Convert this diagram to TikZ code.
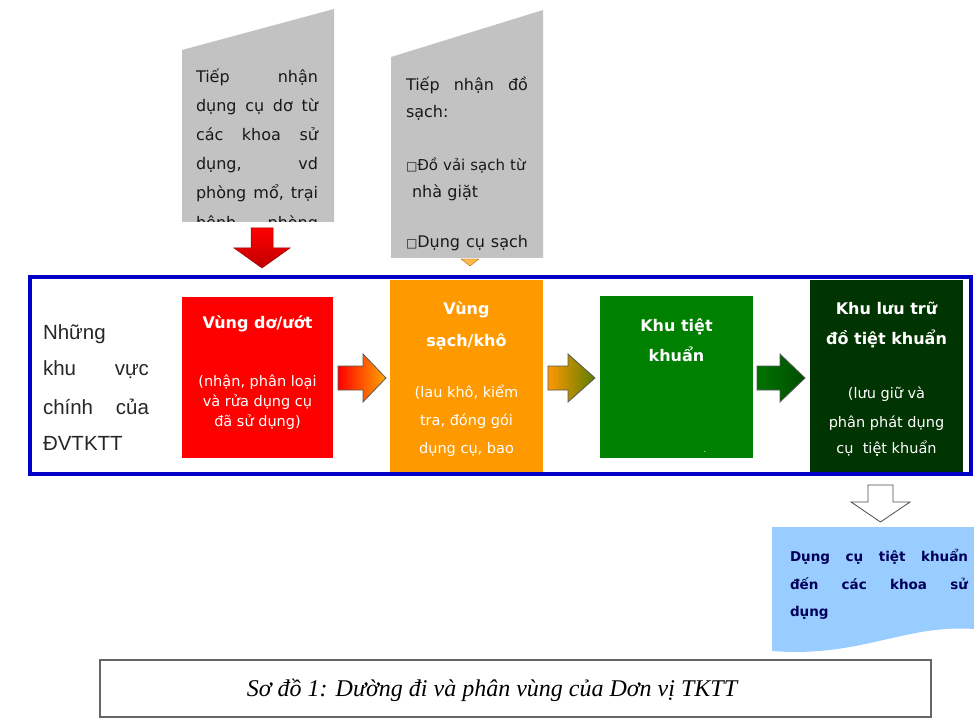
\documentclass[tikz,border=0pt]{standalone}
\usepackage{fontspec}
\setmainfont{Liberation Serif}
\newfontfamily\arialf{Liberation Sans}
\newfontfamily\dvs{DejaVu Sans}
\definecolor{frameblue}{RGB}{0,0,200}
\definecolor{boxgray}{RGB}{194,194,194}
\definecolor{zred}{RGB}{255,0,0}
\definecolor{zorange}{RGB}{255,153,0}
\definecolor{zgreen}{RGB}{0,128,0}
\definecolor{zdark}{RGB}{0,52,0}
\definecolor{zolive}{RGB}{90,125,0}
\definecolor{docblue}{RGB}{153,204,255}
\definecolor{docnavy}{RGB}{0,0,90}
\newcommand\smbox{{\fontsize{12}{12}\selectfont □}}
\begin{document}
\begin{tikzpicture}[x=1pt,y=-1pt,
  every node/.style={inner sep=0pt,outer sep=0pt},
  gtxt/.style={font=\dvs\fontsize{16}{19}\selectfont, text=black!90, text width=#1, align=left, anchor=base west},
  gtxt/.default=122pt,
  lefttxt/.style={font=\arialf\fontsize{20.5}{25}\selectfont, text=black!85, text width=106pt, align=left, anchor=base west},
  ttl/.style={font=\dvs\bfseries\fontsize{16}{19}\selectfont, text=white, anchor=base},
  sub/.style={font=\dvs\fontsize{14.5}{17}\selectfont, text=white, anchor=base},
  doctxt/.style={font=\dvs\bfseries\fontsize{13.5}{16}\selectfont, text=docnavy, text width=178pt, align=left, anchor=base west},
  arrowline/.style={draw=black!65, line width=0.8pt}
]
\useasboundingbox (0,0) rectangle (974,727);

% ---- gray input box 1
\fill[boxgray] (182,50) -- (334,9) -- (334,222) -- (182,222) -- cycle;
\begin{scope}
\clip (182,50) -- (334,9) -- (334,222) -- (182,222) -- cycle;
\node[gtxt] (g1a) at (196,83) {Tiếp\hfill nhận};
\node[gtxt] (g1b) at (196,112) {dụng\hfill cụ\hfill dơ\hfill từ};
\node[gtxt] (g1c) at (196,141) {các\hfill khoa\hfill sử};
\node[gtxt] (g1d) at (196,170) {dụng,\hfill vd};
\node[gtxt] (g1e) at (196,199) {phòng\hfill mổ,\hfill trại};
\node[gtxt] (g1f) at (196,229) {bệnh\hfill phòng};
\end{scope}

% ---- gray input box 2
\fill[boxgray] (391,57) -- (543,10) -- (543,258) -- (391,258) -- cycle;
\node[gtxt] (g2a) at (406,91) {Tiếp\hfill nhận\hfill đồ};
\node[gtxt] (g2b) at (406,118) {sạch:};
\node[gtxt=134pt, font=\dvs\fontsize{15}{18}\selectfont] (g2c) at (406,171) {\smbox Đồ vải sạch từ};
\node[gtxt] (g2d) at (412,198) {nhà giặt};
\node[gtxt] (g2e) at (406,248) {\smbox Dụng\hfill cụ\hfill sạch};

% ---- down arrows from input boxes
\shadedraw[top color=zred, bottom color=zred!75!black, draw=zred!60!black, line width=0.5pt]
  (251,228) -- (273,228) -- (273,248) -- (290,248) -- (262,268) -- (234,248) -- (251,248) -- cycle;
\fill[zorange!70!white, draw=zorange!60!black, line width=0.3pt] (461,259) -- (479,259) -- (470,266) -- cycle;

% ---- zone boxes
\fill[zred] (182,297) rectangle (333,458);
\fill[zorange] (390,280) rectangle (543,472);
\fill[zgreen] (600,296) rectangle (753,458);
\fill[zdark] (810,280) rectangle (963,472);

% ---- main frame
\draw[frameblue, line width=4pt] (30,277) rectangle (971,474);

% ---- left label
\node[lefttxt] (la) at (43,339) {Những};
\node[lefttxt] (lb) at (43,375) {khu\hfill vực};
\node[lefttxt] (lc) at (43,414) {chính\hfill của};
\node[lefttxt] (ld) at (43,450) {ĐVTKTT};

% ---- red box text
\node[ttl] (r1) at (257.5,328) {Vùng dơ/ướt};
\node[sub] (r2) at (257.5,386) {(nhận, phân loại};
\node[sub] (r3) at (257.5,406) {và rửa dụng cụ};
\node[sub] (r4) at (257.5,426) {đã sử dụng)};

% ---- orange box text
\node[ttl] (o1) at (466.5,314) {Vùng};
\node[ttl] (o2) at (466.5,346) {sạch/khô};
\node[sub] (o3) at (466.5,397) {(lau khô, kiểm};
\node[sub] (o4) at (466.5,425) {tra, đóng gói};
\node[sub] (o5) at (466.5,453) {dụng cụ, bao};

% ---- green box text
\node[ttl] (gr1) at (676.5,331) {Khu tiệt};
\node[ttl] (gr2) at (676.5,361) {khuẩn};
\node[sub, font=\dvs\fontsize{8}{9}\selectfont] (gr3) at (705,452) {.};

% ---- dark green box text
\node[ttl] (d1) at (886.5,314) {Khu lưu trữ};
\node[ttl] (d2) at (886.5,344) {đồ tiệt khuẩn};
\node[sub] (d3) at (886.5,398) {(lưu giữ và};
\node[sub] (d4) at (886.5,427) {phân phát dụng};
\node[sub] (d5) at (886.5,453) {cụ\ \ tiệt khuẩn};

% ---- horizontal block arrows
\shadedraw[left color=zred, right color=zorange!85!yellow, arrowline]
  (338,366) -- (363,366) -- (363,354) -- (386,378) -- (363,402) -- (363,390) -- (338,390) -- cycle;
\shadedraw[left color=zorange, right color=zolive, arrowline]
  (548,366) -- (568,366) -- (568,354) -- (595,378) -- (568,402) -- (568,390) -- (548,390) -- cycle;
\shadedraw[left color=green!45!black, right color=green!30!black, arrowline]
  (757,366) -- (780,366) -- (780,354) -- (805,378) -- (780,402) -- (780,390) -- (757,390) -- cycle;

% ---- white output arrow
\draw[fill=white, draw=black!70, line width=0.8pt]
  (868,485) -- (893,485) -- (893,502) -- (910,502) -- (880.5,522) -- (851,502) -- (868,502) -- cycle;

% ---- output document
\fill[docblue] (772,527) -- (974,527) -- (974,629) .. controls (905,624) and (860,658) .. (772,651) -- cycle;
\node[doctxt] (t1) at (790,561) {Dụng\hfill cụ\hfill tiệt\hfill khuẩn};
\node[doctxt] (t2) at (790,589) {đến\hfill các\hfill khoa\hfill sử};
\node[doctxt] (t3) at (790,616) {dụng};

% ---- caption
\draw[black!60, line width=1.5pt] (100,660) rectangle (931,717);
\node[font=\itshape\fontsize{24}{28}\selectfont, anchor=base] (cap) at (492,696) {Sơ đồ 1: Dường đi và phân vùng của Dơn vị TKTT};
\end{tikzpicture}
\end{document}
